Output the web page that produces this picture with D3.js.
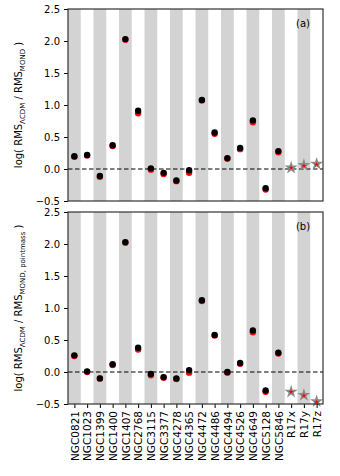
<!DOCTYPE html>
<html>
<head>
<meta charset="utf-8">
<script src="https://cdn.jsdelivr.net/npm/d3@7"></script>
<style>
body { margin: 0; background: #fff; }
text { font-family: "DejaVu Sans", sans-serif; }
</style>
</head>
<body>
<div id="container"></div>
<script>
const galaxies = ["NGC0821", "NGC1023", "NGC1399", "NGC1400", "NGC1407", "NGC2768", "NGC3115",
    "NGC3377", "NGC4278", "NGC4365", "NGC4472", "NGC4486", "NGC4494", "NGC4526", "NGC4649",
    "NGC5128", "NGC5846", "R17x", "R17y", "R17z"];
const yTicks = [-0.5, 0.0, 0.5, 1.0, 1.5, 2.0, 2.5];

// panel (a): log(RMS_LCDM / RMS_MOND), black = main, red = alternative
const blackA = [0.20, 0.22, -0.11, 0.37, 2.03, 0.91, 0.01, -0.06, -0.18, -0.02, 1.08, 0.57,
    0.17, 0.33, 0.76, -0.30, 0.28, 0.02, 0.06, 0.08];
const redA = [0.19, 0.21, -0.12, 0.36, 2.02, 0.87, -0.01, -0.08, -0.19, -0.06, 1.07, 0.55,
    0.16, 0.31, 0.73, -0.32, 0.26, 0.02, 0.05, 0.07];

// panel (b): log(RMS_LCDM / RMS_MOND,pointmass)
const blackB = [0.26, 0.01, -0.10, 0.12, 2.03, 0.38, -0.03, -0.08, -0.10, 0.03, 1.12, 0.58,
    0.00, 0.14, 0.65, -0.29, 0.30, -0.31, -0.36, -0.46];
const redB = [0.25, 0.00, -0.10, 0.11, 2.02, 0.35, -0.05, -0.09, -0.11, -0.01, 1.11, 0.57,
    -0.01, 0.13, 0.62, -0.31, 0.29, -0.31, -0.37, -0.47];

const width = 340;
const height = 476;
const margin = { left: 68, right: 17 };

const svg = d3.select("#container").append("svg")
    .attr("width", width)
    .attr("height", height);

const x = d3.scaleLinear()
    .domain([-0.5, galaxies.length - 0.5])
    .range([margin.left, width - margin.right]);

const star = d3.symbol().type(d3.symbolStar);

function drawPanel(top, bottom, black, red, tag, sub, showX) {
    const y = d3.scaleLinear().domain([-0.5, 2.5]).range([bottom, top]);
    const g = svg.append("g");

    // alternating grey stripes
    g.selectAll("rect.stripe")
        .data(galaxies.map((d, i) => i).filter(i => i % 2 === 0))
        .enter().append("rect")
        .attr("x", i => x(i - 0.5))
        .attr("width", x(1) - x(0))
        .attr("y", top)
        .attr("height", bottom - top)
        .attr("fill", "#d3d3d3");

    g.append("line")
        .attr("x1", x.range()[0]).attr("x2", x.range()[1])
        .attr("y1", y(0)).attr("y2", y(0))
        .attr("stroke", "#000")
        .attr("stroke-width", 1.2)
        .attr("stroke-dasharray", "4.5,2.5");

    const nGal = 17;
    // red markers behind the black ones
    g.selectAll("circle.red")
        .data(red.slice(0, nGal))
        .enter().append("circle")
        .attr("cx", (d, i) => x(i))
        .attr("cy", d => y(d))
        .attr("r", 3.2)
        .attr("fill", "#ff0000");

    g.selectAll("circle.black")
        .data(black.slice(0, nGal))
        .enter().append("circle")
        .attr("cx", (d, i) => x(i))
        .attr("cy", d => y(d))
        .attr("r", 3.2)
        .attr("fill", "#000");

    g.selectAll("path.greystar")
        .data(black.slice(nGal))
        .enter().append("path")
        .attr("transform", (d, i) => `translate(${x(nGal + i)},${y(d)})`)
        .attr("d", star.size(55))
        .attr("fill", "#8c8c8c");

    g.selectAll("path.redstar")
        .data(red.slice(nGal))
        .enter().append("path")
        .attr("transform", (d, i) => `translate(${x(nGal + i)},${y(d)})`)
        .attr("d", star.size(8))
        .attr("fill", "#ff0000");

    // axes
    g.append("g")
        .attr("transform", `translate(${margin.left},0)`)
        .call(d3.axisLeft(y).tickValues(yTicks).tickFormat(d3.format(".1f")).tickSize(4).tickPadding(4))
        .call(a => a.select(".domain").remove())
        .call(a => a.selectAll("text").attr("font-size", 10).attr("fill", "#000")
            .text(d => d < 0 ? "\u2212" + Math.abs(d).toFixed(1) : d.toFixed(1)));

    const xAxis = d3.axisBottom(x).tickValues(galaxies.map((d, i) => i))
        .tickFormat(i => galaxies[i]).tickSize(4).tickPadding(3);
    const xa = g.append("g")
        .attr("transform", `translate(0,${bottom})`)
        .call(xAxis)
        .call(a => a.select(".domain").remove());
    if (showX) {
        xa.selectAll("text")
            .attr("font-size", 10.5)
            .attr("fill", "#000")
            .attr("transform", "rotate(-90)")
            .attr("text-anchor", "end")
            .attr("x", -7)
            .attr("y", 0)
            .attr("dy", "0.35em");
    } else {
        xa.remove();
    }

    g.append("rect")
        .attr("x", x.range()[0])
        .attr("y", top)
        .attr("width", x.range()[1] - x.range()[0])
        .attr("height", bottom - top)
        .attr("fill", "none")
        .attr("stroke", "#333")
        .attr("stroke-width", 1.2);

    g.append("text")
        .attr("x", 303)
        .attr("y", top + 18)
        .attr("text-anchor", "middle")
        .attr("font-size", 10)
        .text(tag);

    // y label with subscripts
    const label = g.append("text")
        .attr("transform", `translate(22,${(top + bottom) / 2}) rotate(-90)`)
        .attr("text-anchor", "middle")
        .attr("font-size", 10);
    label.append("tspan").text("log( RMS");
    label.append("tspan").attr("font-size", 7).attr("dy", 2.5).text("\u039BCDM");
    label.append("tspan").attr("dy", -2.5).text(" / RMS");
    label.append("tspan").attr("font-size", 7).attr("dy", 2.5).text(sub);
    label.append("tspan").attr("dy", -2.5).text(" )");
}

drawPanel(9, 201, blackA, redA, "(a)", "MOND", false);
drawPanel(212, 404, blackB, redB, "(b)", "MOND, pointmass", true);
</script>
</body>
</html>
